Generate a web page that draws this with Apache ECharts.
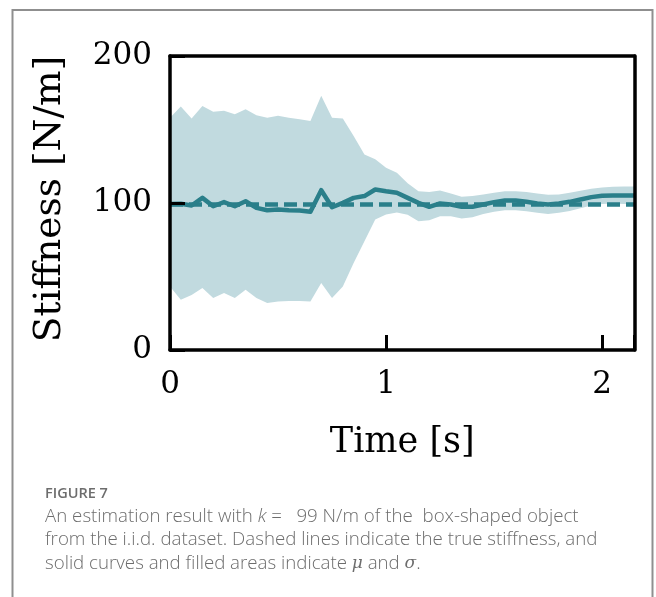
<!DOCTYPE html>
<html>
<head>
<meta charset="utf-8">
<script src="https://cdn.jsdelivr.net/npm/echarts@6/dist/echarts.min.js"></script>
<style>
  html, body { margin: 0; padding: 0; background: #fff; }
  #chart { width: 656px; height: 597px; }
</style>
</head>
<body>
<div id="chart"></div>
<script>
// Time stamps of the estimation steps [s]
const times = [0.00, 0.05, 0.10, 0.15, 0.20, 0.25, 0.30, 0.35, 0.40, 0.45,
               0.50, 0.55, 0.60, 0.65, 0.70, 0.75, 0.80, 0.85, 0.90, 0.95,
               1.00, 1.05, 1.10, 1.15, 1.20, 1.25, 1.30, 1.35, 1.40, 1.45,
               1.50, 1.55, 1.60, 1.65, 1.70, 1.75, 1.80, 1.85, 1.90, 1.95,
               2.00, 2.05, 2.10, 2.15];

// Estimated mean stiffness mu [N/m]
const meanK = [99.4, 99.5, 98.3, 103.5, 97.8, 100.6, 97.8, 101.2, 96.7, 95.1,
               95.6, 95.1, 94.9, 94.0, 108.7, 97.1, 100.1, 103.5, 104.7, 109.2,
               108.0, 107.0, 103.5, 100.1, 97.4, 99.7, 99.0, 97.4, 97.4, 99.0,
               100.6, 101.7, 101.7, 100.8, 99.7, 99.0, 99.7, 100.8, 102.4, 104.0,
               104.9, 105.1, 105.1, 105.1];

// Upper edge of the uncertainty band (mu + sigma) [N/m]
const upperK = [158.0, 165.7, 157.5, 166.0, 162.0, 162.7, 160.4, 163.8, 159.7, 158.0,
                159.3, 158.0, 157.0, 155.8, 173.0, 158.0, 157.5, 145.6, 133.0, 129.7,
                124.0, 120.6, 113.5, 108.0, 107.4, 108.5, 106.5, 104.2, 104.7, 105.8,
                107.0, 108.0, 108.0, 107.4, 106.5, 105.6, 105.8, 107.0, 108.3, 109.7,
                110.6, 111.0, 111.3, 111.3];

// Lower edge of the uncertainty band (mu - sigma) [N/m]
const lowerK = [43.2, 34.1, 37.5, 42.1, 35.3, 38.7, 35.3, 41.0, 35.3, 31.9,
                33.0, 33.4, 33.4, 33.0, 45.5, 35.3, 43.2, 59.2, 73.9, 88.7,
                92.2, 93.6, 92.0, 87.6, 88.3, 91.0, 91.0, 89.4, 90.3, 92.6,
                94.0, 95.1, 95.1, 94.4, 93.3, 92.6, 93.3, 94.6, 96.5, 98.3,
                99.4, 99.7, 99.4, 99.4];

// True stiffness of the object [N/m]
const trueK = 99;

// Axis ticks
const xTicks = [0, 1, 2];
const yTicks = [0, 100, 200];

const TEAL = '#2a7f8a';
const BAND = '#c1dadf';
const SERIF = '"DejaVu Serif", "Liberation Serif", serif';
const CAPTION_FONT = '"Open Sans", Lato, sans-serif';
const CAPTION_COLOR = '#6d6d6d';
const CAPTION_SIZE = 18.7;

const chart = echarts.init(document.getElementById('chart'), null, { renderer: 'canvas' });

const frameLine = { show: true, onZero: false, lineStyle: { color: '#000', width: 3.5 } };
const inTicks = { show: true, inside: true, length: 15, lineStyle: { color: '#000', width: 3 } };

const option = {
  animation: false,
  backgroundColor: '#fff',
  grid: { left: 170, right: 21.5, top: 56, bottom: 247, containLabel: false },
  xAxis: [
    {
      type: 'value', position: 'bottom', min: 0, max: 2.15, interval: 1, z: 10,
      axisLine: frameLine, axisTick: inTicks, splitLine: { show: false },
      axisLabel: {
        color: '#000', fontFamily: SERIF, fontSize: 31, margin: 19,
        customValues: xTicks, formatter: v => String(v)
      },
      name: 'Time [s]', nameLocation: 'middle', nameGap: 75,
      nameTextStyle: { color: '#000', fontFamily: SERIF, fontSize: 35 }
    },
    {
      type: 'value', position: 'top', min: 0, max: 2.15, z: 10,
      axisLine: frameLine, axisTick: { show: false }, axisLabel: { show: false },
      splitLine: { show: false }
    }
  ],
  yAxis: [
    {
      type: 'value', position: 'left', min: 0, max: 200, interval: 100, z: 10,
      axisLine: frameLine, axisTick: inTicks, splitLine: { show: false },
      axisLabel: {
        color: '#000', fontFamily: SERIF, fontSize: 31, margin: 18,
        formatter: v => yTicks.includes(v) ? String(v) : ''
      },
      name: 'Stiffness [N/m]', nameLocation: 'middle', nameGap: 101,
      nameTextStyle: { color: '#000', fontFamily: SERIF, fontSize: 37.5, padding: [0, 0, 0, 8] }
    },
    {
      type: 'value', position: 'right', min: 0, max: 200, z: 10,
      axisLine: frameLine, axisTick: { show: false }, axisLabel: { show: false },
      splitLine: { show: false }
    }
  ],
  series: [
    {
      // mu +/- sigma band drawn as one polygon
      type: 'custom',
      xAxisIndex: 0, yAxisIndex: 0,
      clip: true,
      z: 1,
      data: [[0, 0]],
      renderItem: function (params, api) {
        const pts = [];
        for (let i = 0; i < times.length; i++) pts.push(api.coord([times[i], upperK[i]]));
        for (let i = times.length - 1; i >= 0; i--) pts.push(api.coord([times[i], lowerK[i]]));
        return {
          type: 'polygon',
          shape: { points: pts },
          style: { fill: BAND, stroke: null }
        };
      }
    },
    {
      name: 'true', type: 'line', z: 3,
      data: times.map(t => [t, trueK]),
      symbol: 'none',
      lineStyle: { color: TEAL, width: 4.5, type: [13, 6] }
    },
    {
      name: 'mean', type: 'line', z: 4,
      data: times.map((t, i) => [t, meanK[i]]),
      symbol: 'none',
      lineStyle: { color: TEAL, width: 4.5, join: 'round' }
    }
  ],
  graphic: [
    {
      type: 'rect', silent: true, z: 0,
      shape: { x: 12.5, y: 10, width: 640, height: 620 },
      style: { fill: null, stroke: '#8f8f8f', lineWidth: 2 }
    },
    {
      type: 'text', left: 45, top: 486, silent: true,
      style: {
        text: 'FIGURE 7', fill: CAPTION_COLOR,
        font: '600 14.5px ' + CAPTION_FONT
      }
    },
    {
      type: 'text', left: 45, top: 507, silent: true,
      style: {
        text: 'An estimation result with {k|k} =   99 N/m of the  box-shaped object',
        fill: CAPTION_COLOR, fontFamily: CAPTION_FONT, fontSize: CAPTION_SIZE, fontWeight: 300,
        rich: { k: { fontFamily: CAPTION_FONT, fontStyle: 'italic', fontSize: CAPTION_SIZE, fill: CAPTION_COLOR, fontWeight: 300 } }
      }
    },
    {
      type: 'text', left: 45, top: 530, silent: true,
      style: {
        text: 'from the i.i.d. dataset. Dashed lines indicate the true stiffness, and',
        fill: CAPTION_COLOR, fontFamily: CAPTION_FONT, fontSize: CAPTION_SIZE, fontWeight: 300
      }
    },
    {
      type: 'text', left: 45, top: 554, silent: true,
      style: {
        text: 'solid curves and filled areas indicate {m|μ} and {m|σ}.',
        fill: CAPTION_COLOR, fontFamily: CAPTION_FONT, fontSize: CAPTION_SIZE, fontWeight: 300,
        rich: { m: { fontFamily: SERIF, fontStyle: 'italic', fontSize: 17, fill: CAPTION_COLOR } }
      }
    }
  ]
};

chart.setOption(option);
</script>
</body>
</html>
